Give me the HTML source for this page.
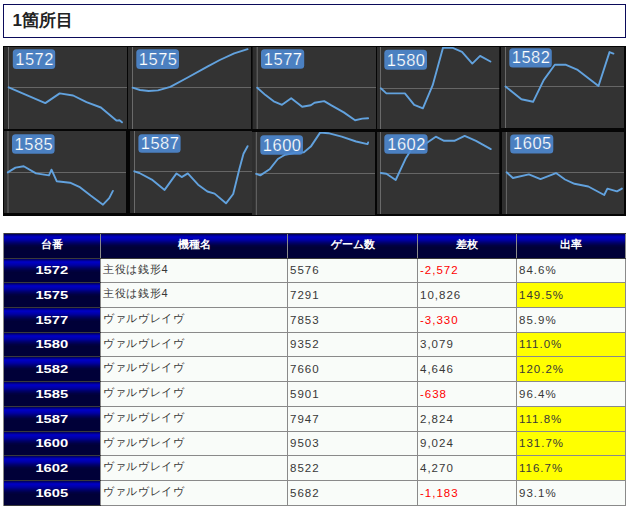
<!DOCTYPE html>
<html><head><meta charset="utf-8">
<style>
html,body{margin:0;padding:0;background:#fff;width:631px;height:509px;overflow:hidden;position:relative;font-family:"Liberation Sans",sans-serif;}
.title{position:absolute;left:3px;top:4px;width:621px;height:32px;border:1px solid #0b0b5a;background:#fff;}
.title span{position:absolute;left:8.5px;top:6.5px;font-size:17px;font-weight:bold;color:#222;line-height:18px;white-space:nowrap;}
.charts{position:absolute;left:0;top:0;}
.tbl{position:absolute;background:#8a8a8a;}
.tbl div{position:absolute;white-space:nowrap;overflow:hidden;}
.hd,.num{background:linear-gradient(to bottom,#000058 0px,#000080 1px,#0000b8 2.5px,#0000c0 3.5px,#0000a4 6px,#000068 9px,#000044 11.5px,#000038 13.5px,#000038 100%);color:#fff;font-weight:bold;text-align:center;font-size:11px;}
.num{font-size:11.5px;}
.tbl .num span{position:static;display:inline-block;transform:scaleX(1.28);}
.td{background:#f9fcf9;color:#383838;font-size:11.5px;padding-left:2px;box-sizing:border-box;letter-spacing:1.0px;}
.td.nm{font-size:11px;letter-spacing:0.7px;}
.td.neg{color:#ff0000;}
.td.hi{background:#ffff00;}
.tbl .dk{height:1px;background:#3a3a3a;}
</style></head><body>
<div class="title"><span>1箇所目</span></div>
<svg class="charts" width="631" height="220" viewBox="0 0 631 220">
<rect x="3" y="46" width="623" height="170" fill="#050505"/>
<defs><clipPath id="c0"><rect x="4" y="47" width="123" height="82"/></clipPath></defs>
<g clip-path="url(#c0)">
<rect x="4" y="47" width="123" height="82" fill="#333333"/>
<rect x="4" y="47" width="4.0" height="82" fill="#2e2e2e"/>
<line x1="8.5" y1="47" x2="8.5" y2="129" stroke="#6a6a6a" stroke-width="1"/>
<line x1="8.5" y1="87.5" x2="127" y2="87.5" stroke="#666666" stroke-width="1.2"/>
<polyline points="8.65,87.3 45.3,103.1 59.7,93.4 73.1,95.5 86.5,102.1 100.9,107.5 116.4,120.6 119.5,120.2 122,122.3" fill="none" stroke="#62a2de" stroke-width="1.9" stroke-linejoin="round" stroke-linecap="round"/>
<rect x="12.8" y="49.2" width="42.4" height="19.9" rx="3.5" fill="#4e88d0" fill-opacity="0.9"/>
<text x="34.6" y="64.9" text-anchor="middle" font-family="Liberation Sans" font-size="16.5" letter-spacing="0.5" fill="#ffffff" stroke="#4b7fc0" stroke-width="0.22">1572</text>
</g>
<defs><clipPath id="c1"><rect x="128" y="47" width="123" height="82"/></clipPath></defs>
<g clip-path="url(#c1)">
<rect x="128" y="47" width="123" height="82" fill="#333333"/>
<rect x="128" y="47" width="4.0" height="82" fill="#2e2e2e"/>
<line x1="132.5" y1="47" x2="132.5" y2="129" stroke="#6a6a6a" stroke-width="1"/>
<line x1="132.5" y1="87.5" x2="251" y2="87.5" stroke="#666666" stroke-width="1.2"/>
<polyline points="132.6,87.7 140,90 148.7,91 158,90.4 170.3,86.9 186.8,78 207.4,66.7 219.8,60 234.2,53.3 247.6,49.2" fill="none" stroke="#62a2de" stroke-width="1.9" stroke-linejoin="round" stroke-linecap="round"/>
<rect x="136.3" y="49.2" width="42.7" height="19.9" rx="3.5" fill="#4e88d0" fill-opacity="0.9"/>
<text x="158.2" y="64.9" text-anchor="middle" font-family="Liberation Sans" font-size="16.5" letter-spacing="0.5" fill="#ffffff" stroke="#4b7fc0" stroke-width="0.22">1575</text>
</g>
<defs><clipPath id="c2"><rect x="252.5" y="47" width="123.5" height="82"/></clipPath></defs>
<g clip-path="url(#c2)">
<rect x="252.5" y="47" width="123.5" height="82" fill="#333333"/>
<rect x="252.5" y="47" width="4.199999999999989" height="82" fill="#2e2e2e"/>
<line x1="257.2" y1="47" x2="257.2" y2="129" stroke="#6a6a6a" stroke-width="1"/>
<line x1="257.2" y1="87.5" x2="376" y2="87.5" stroke="#666666" stroke-width="1.2"/>
<polyline points="257.2,87.7 265.5,95.1 273.7,101.3 282,104.8 291.2,98.2 302.2,106.8 310.8,105.2 314.5,102.7 324.2,101.1 331.4,105.4 343.8,112.4 355.1,120.2 362.3,118.6 368.1,118.2" fill="none" stroke="#62a2de" stroke-width="1.9" stroke-linejoin="round" stroke-linecap="round"/>
<rect x="261" y="49.2" width="43.2" height="19.5" rx="3.5" fill="#4e88d0" fill-opacity="0.9"/>
<text x="283.2" y="64.5" text-anchor="middle" font-family="Liberation Sans" font-size="16.5" letter-spacing="0.5" fill="#ffffff" stroke="#4b7fc0" stroke-width="0.22">1577</text>
</g>
<defs><clipPath id="c3"><rect x="377" y="47" width="122.5" height="82"/></clipPath></defs>
<g clip-path="url(#c3)">
<rect x="377" y="47" width="122.5" height="82" fill="#333333"/>
<rect x="377" y="47" width="3.0" height="82" fill="#2e2e2e"/>
<line x1="380.5" y1="47" x2="380.5" y2="129" stroke="#6a6a6a" stroke-width="1"/>
<line x1="380.5" y1="88.5" x2="499.5" y2="88.5" stroke="#666666" stroke-width="1.2"/>
<polyline points="380.8,88.3 386.4,93.4 404.9,93.4 414.2,104.8 422.9,108.3 432.7,85.2 443,47.7 452.3,47.7 462,51.8 472.3,63.6 480.1,55.9 490.4,61.5" fill="none" stroke="#62a2de" stroke-width="1.9" stroke-linejoin="round" stroke-linecap="round"/>
<rect x="384.3" y="49.8" width="42.7" height="20.0" rx="3.5" fill="#4e88d0" fill-opacity="0.9"/>
<text x="406.2" y="65.6" text-anchor="middle" font-family="Liberation Sans" font-size="16.5" letter-spacing="0.5" fill="#ffffff" stroke="#4b7fc0" stroke-width="0.22">1580</text>
</g>
<defs><clipPath id="c4"><rect x="501" y="47" width="123" height="81"/></clipPath></defs>
<g clip-path="url(#c4)">
<rect x="501" y="47" width="123" height="81" fill="#333333"/>
<rect x="501" y="47" width="4.0" height="81" fill="#2e2e2e"/>
<line x1="505.5" y1="47" x2="505.5" y2="128" stroke="#6a6a6a" stroke-width="1"/>
<line x1="505.5" y1="86.5" x2="624" y2="86.5" stroke="#666666" stroke-width="1.2"/>
<polyline points="505.5,86.5 521.4,99.2 533.1,101.8 543.7,80.1 554.8,64.8 566,64.8 577.7,69.9 598.5,86 609.5,52.1 613.4,53.6" fill="none" stroke="#62a2de" stroke-width="1.9" stroke-linejoin="round" stroke-linecap="round"/>
<rect x="509.3" y="48.2" width="42.5" height="19.2" rx="3.5" fill="#4e88d0" fill-opacity="0.9"/>
<text x="531.1" y="63.2" text-anchor="middle" font-family="Liberation Sans" font-size="16.5" letter-spacing="0.5" fill="#ffffff" stroke="#4b7fc0" stroke-width="0.22">1582</text>
</g>
<defs><clipPath id="c5"><rect x="4" y="131" width="122" height="82"/></clipPath></defs>
<g clip-path="url(#c5)">
<rect x="4" y="131" width="122" height="82" fill="#333333"/>
<rect x="4" y="131" width="3.5" height="82" fill="#2e2e2e"/>
<line x1="8" y1="131" x2="8" y2="213" stroke="#6a6a6a" stroke-width="1"/>
<line x1="8" y1="172.5" x2="126" y2="172.5" stroke="#666666" stroke-width="1.2"/>
<polyline points="7.8,172.4 15.5,167.6 23.7,166.2 36,173.4 49,175.4 51.5,169.7 56.7,181.2 70,182.7 79.3,186.8 90.6,195.6 103,204.7 109.2,198.1 112.9,190.9" fill="none" stroke="#62a2de" stroke-width="1.9" stroke-linejoin="round" stroke-linecap="round"/>
<rect x="12" y="134.2" width="42.6" height="19.6" rx="3.5" fill="#4e88d0" fill-opacity="0.9"/>
<text x="33.9" y="149.6" text-anchor="middle" font-family="Liberation Sans" font-size="16.5" letter-spacing="0.5" fill="#ffffff" stroke="#4b7fc0" stroke-width="0.22">1585</text>
</g>
<defs><clipPath id="c6"><rect x="130" y="131" width="122" height="82"/></clipPath></defs>
<g clip-path="url(#c6)">
<rect x="130" y="131" width="122" height="82" fill="#333333"/>
<rect x="130" y="131" width="4.0" height="82" fill="#2e2e2e"/>
<line x1="134.5" y1="131" x2="134.5" y2="213" stroke="#6a6a6a" stroke-width="1"/>
<line x1="134.5" y1="171.5" x2="252" y2="171.5" stroke="#666666" stroke-width="1.2"/>
<polyline points="134.3,171.3 139.4,173 151.8,179.6 164.6,189.9 176.5,173.4 181.7,177.1 187.8,173.4 198.1,184.7 207.4,191.5 214.6,193.6 226,203.3 233.2,194 239.3,169.3 243.5,153.8 247.6,146.2" fill="none" stroke="#62a2de" stroke-width="1.9" stroke-linejoin="round" stroke-linecap="round"/>
<rect x="138.4" y="134.2" width="42.2" height="18.6" rx="3.5" fill="#4e88d0" fill-opacity="0.9"/>
<text x="160.1" y="148.6" text-anchor="middle" font-family="Liberation Sans" font-size="16.5" letter-spacing="0.5" fill="#ffffff" stroke="#4b7fc0" stroke-width="0.22">1587</text>
</g>
<defs><clipPath id="c7"><rect x="252" y="132" width="123" height="83"/></clipPath></defs>
<g clip-path="url(#c7)">
<rect x="252" y="132" width="123" height="83" fill="#333333"/>
<rect x="252" y="132" width="3.8000000000000114" height="83" fill="#2e2e2e"/>
<line x1="256.3" y1="132" x2="256.3" y2="215" stroke="#6a6a6a" stroke-width="1"/>
<line x1="256.3" y1="173.5" x2="375" y2="173.5" stroke="#666666" stroke-width="1.2"/>
<polyline points="256.2,173.8 260.3,175.4 269.6,169.3 277.8,159 285,154.8 295.4,152.8 303.6,152.4 310.8,146.6 320.1,132.6 328.3,133.2 341.7,136.7 356.1,141.5 367.5,144.1 368.1,142.5" fill="none" stroke="#62a2de" stroke-width="1.9" stroke-linejoin="round" stroke-linecap="round"/>
<rect x="260.3" y="135.3" width="42.7" height="19.5" rx="3.5" fill="#4e88d0" fill-opacity="0.9"/>
<text x="282.2" y="150.6" text-anchor="middle" font-family="Liberation Sans" font-size="16.5" letter-spacing="0.5" fill="#ffffff" stroke="#4b7fc0" stroke-width="0.22">1600</text>
</g>
<defs><clipPath id="c8"><rect x="377" y="132" width="122.5" height="82"/></clipPath></defs>
<g clip-path="url(#c8)">
<rect x="377" y="132" width="122.5" height="82" fill="#333333"/>
<rect x="377" y="132" width="3.0" height="82" fill="#2e2e2e"/>
<line x1="380.5" y1="132" x2="380.5" y2="214" stroke="#6a6a6a" stroke-width="1"/>
<line x1="380.5" y1="173.5" x2="499.5" y2="173.5" stroke="#666666" stroke-width="1.2"/>
<polyline points="380.8,173 386.4,173.8 395.7,180 406,157.9 411.1,149.7 424.5,144.5 435.8,136.7 444.1,140.8 454.4,140.8 464.7,135.9 476,140.8 490.8,149.1" fill="none" stroke="#62a2de" stroke-width="1.9" stroke-linejoin="round" stroke-linecap="round"/>
<rect x="384.3" y="134.2" width="43.3" height="19.6" rx="3.5" fill="#4e88d0" fill-opacity="0.9"/>
<text x="406.6" y="149.6" text-anchor="middle" font-family="Liberation Sans" font-size="16.5" letter-spacing="0.5" fill="#ffffff" stroke="#4b7fc0" stroke-width="0.22">1602</text>
</g>
<defs><clipPath id="c9"><rect x="502" y="132" width="122" height="82"/></clipPath></defs>
<g clip-path="url(#c9)">
<rect x="502" y="132" width="122" height="82" fill="#333333"/>
<rect x="502" y="132" width="3.8999999999999773" height="82" fill="#2e2e2e"/>
<line x1="506.4" y1="132" x2="506.4" y2="214" stroke="#6a6a6a" stroke-width="1"/>
<line x1="506.4" y1="172.5" x2="624" y2="172.5" stroke="#666666" stroke-width="1.2"/>
<polyline points="506.6,172.3 512.9,178 528.9,174.4 540.5,179.1 556,173.1 565,179.5 574.5,183.8 588.3,186.5 604.2,195 607.4,188.6 617,191.4 621.9,188.6" fill="none" stroke="#62a2de" stroke-width="1.9" stroke-linejoin="round" stroke-linecap="round"/>
<rect x="510.2" y="134.5" width="43.1" height="19.1" rx="3.5" fill="#4e88d0" fill-opacity="0.9"/>
<text x="532.4" y="149.4" text-anchor="middle" font-family="Liberation Sans" font-size="16.5" letter-spacing="0.5" fill="#ffffff" stroke="#4b7fc0" stroke-width="0.22">1605</text>
</g>
</svg>
<div class="tbl" style="left:3px;top:233px;width:623px;height:273px"><div class="hd" style="left:1px;top:1px;width:96px;height:24px;line-height:21px">台番</div><div class="hd" style="left:98px;top:1px;width:186px;height:24px;line-height:21px">機種名</div><div class="hd" style="left:285px;top:1px;width:129px;height:24px;line-height:21px">ゲーム数</div><div class="hd" style="left:415px;top:1px;width:98px;height:24px;line-height:21px">差枚</div><div class="hd" style="left:514px;top:1px;width:108px;height:24px;line-height:21px">出率</div><div class="num" style="left:1px;top:26px;width:96px;height:23px;line-height:23px"><span>1572</span></div><div class="td nm" style="left:98px;top:26px;width:186px;height:23px;line-height:20px">主役は銭形4</div><div class="td" style="left:285px;top:26px;width:129px;height:23px;line-height:23px">5576</div><div class="td neg" style="left:415px;top:26px;width:98px;height:23px;line-height:23px">-2,572</div><div class="td" style="left:514px;top:26px;width:108px;height:23px;line-height:23px">84.6%</div><div class="num" style="left:1px;top:50px;width:96px;height:24px;line-height:24px"><span>1575</span></div><div class="td nm" style="left:98px;top:50px;width:186px;height:24px;line-height:21px">主役は銭形4</div><div class="td" style="left:285px;top:50px;width:129px;height:24px;line-height:24px">7291</div><div class="td" style="left:415px;top:50px;width:98px;height:24px;line-height:24px">10,826</div><div class="td hi" style="left:514px;top:50px;width:108px;height:24px;line-height:24px">149.5%</div><div class="num" style="left:1px;top:75px;width:96px;height:24px;line-height:24px"><span>1577</span></div><div class="td nm" style="left:98px;top:75px;width:186px;height:24px;line-height:21px">ヴァルヴレイヴ</div><div class="td" style="left:285px;top:75px;width:129px;height:24px;line-height:24px">7853</div><div class="td neg" style="left:415px;top:75px;width:98px;height:24px;line-height:24px">-3,330</div><div class="td" style="left:514px;top:75px;width:108px;height:24px;line-height:24px">85.9%</div><div class="num" style="left:1px;top:100px;width:96px;height:23px;line-height:23px"><span>1580</span></div><div class="td nm" style="left:98px;top:100px;width:186px;height:23px;line-height:20px">ヴァルヴレイヴ</div><div class="td" style="left:285px;top:100px;width:129px;height:23px;line-height:23px">9352</div><div class="td" style="left:415px;top:100px;width:98px;height:23px;line-height:23px">3,079</div><div class="td hi" style="left:514px;top:100px;width:108px;height:23px;line-height:23px">111.0%</div><div class="num" style="left:1px;top:124px;width:96px;height:24px;line-height:24px"><span>1582</span></div><div class="td nm" style="left:98px;top:124px;width:186px;height:24px;line-height:21px">ヴァルヴレイヴ</div><div class="td" style="left:285px;top:124px;width:129px;height:24px;line-height:24px">7660</div><div class="td" style="left:415px;top:124px;width:98px;height:24px;line-height:24px">4,646</div><div class="td hi" style="left:514px;top:124px;width:108px;height:24px;line-height:24px">120.2%</div><div class="num" style="left:1px;top:149px;width:96px;height:24px;line-height:24px"><span>1585</span></div><div class="td nm" style="left:98px;top:149px;width:186px;height:24px;line-height:21px">ヴァルヴレイヴ</div><div class="td" style="left:285px;top:149px;width:129px;height:24px;line-height:24px">5901</div><div class="td neg" style="left:415px;top:149px;width:98px;height:24px;line-height:24px">-638</div><div class="td" style="left:514px;top:149px;width:108px;height:24px;line-height:24px">96.4%</div><div class="num" style="left:1px;top:174px;width:96px;height:24px;line-height:24px"><span>1587</span></div><div class="td nm" style="left:98px;top:174px;width:186px;height:24px;line-height:21px">ヴァルヴレイヴ</div><div class="td" style="left:285px;top:174px;width:129px;height:24px;line-height:24px">7947</div><div class="td" style="left:415px;top:174px;width:98px;height:24px;line-height:24px">2,824</div><div class="td hi" style="left:514px;top:174px;width:108px;height:24px;line-height:24px">111.8%</div><div class="num" style="left:1px;top:199px;width:96px;height:23px;line-height:23px"><span>1600</span></div><div class="td nm" style="left:98px;top:199px;width:186px;height:23px;line-height:20px">ヴァルヴレイヴ</div><div class="td" style="left:285px;top:199px;width:129px;height:23px;line-height:23px">9503</div><div class="td" style="left:415px;top:199px;width:98px;height:23px;line-height:23px">9,024</div><div class="td hi" style="left:514px;top:199px;width:108px;height:23px;line-height:23px">131.7%</div><div class="num" style="left:1px;top:223px;width:96px;height:24px;line-height:24px"><span>1602</span></div><div class="td nm" style="left:98px;top:223px;width:186px;height:24px;line-height:21px">ヴァルヴレイヴ</div><div class="td" style="left:285px;top:223px;width:129px;height:24px;line-height:24px">8522</div><div class="td" style="left:415px;top:223px;width:98px;height:24px;line-height:24px">4,270</div><div class="td hi" style="left:514px;top:223px;width:108px;height:24px;line-height:24px">116.7%</div><div class="num" style="left:1px;top:248px;width:96px;height:24px;line-height:24px"><span>1605</span></div><div class="td nm" style="left:98px;top:248px;width:186px;height:24px;line-height:21px">ヴァルヴレイヴ</div><div class="td" style="left:285px;top:248px;width:129px;height:24px;line-height:24px">5682</div><div class="td neg" style="left:415px;top:248px;width:98px;height:24px;line-height:24px">-1,183</div><div class="td" style="left:514px;top:248px;width:108px;height:24px;line-height:24px">93.1%</div><div class="dk" style="left:1px;top:0px;width:97px"></div><div class="dk" style="left:97px;top:0px;width:526px"></div><div class="dk" style="left:1px;top:25px;width:97px"></div><div class="dk" style="left:97px;top:25px;width:526px"></div><div class="dk" style="left:1px;top:49px;width:97px"></div><div class="dk" style="left:1px;top:74px;width:97px"></div><div class="dk" style="left:1px;top:99px;width:97px"></div><div class="dk" style="left:1px;top:123px;width:97px"></div><div class="dk" style="left:1px;top:148px;width:97px"></div><div class="dk" style="left:1px;top:173px;width:97px"></div><div class="dk" style="left:1px;top:198px;width:97px"></div><div class="dk" style="left:1px;top:222px;width:97px"></div><div class="dk" style="left:1px;top:247px;width:97px"></div><div class="dk" style="left:1px;top:272px;width:97px"></div></div>
</body></html>
